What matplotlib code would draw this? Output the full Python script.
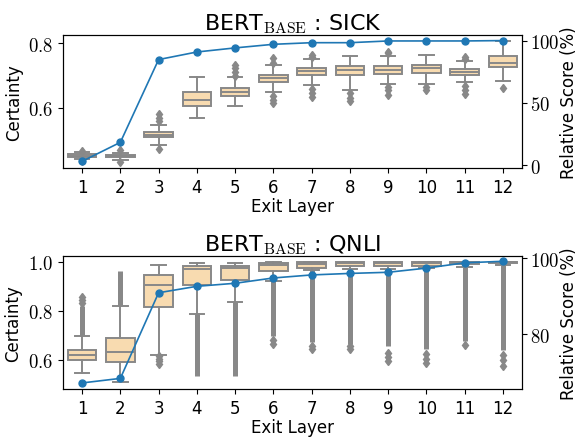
import matplotlib
matplotlib.use("Agg")
import matplotlib.pyplot as plt

plt.rcParams["mathtext.fontset"] = "cm"
plt.rcParams["font.family"] = ["DejaVu Sans"]

layers = list(range(1, 13))

# SICK: certainty box stats per exit layer
sick_med = [0.453, 0.452, 0.518, 0.625, 0.650, 0.692, 0.715, 0.716, 0.718, 0.722, 0.712, 0.738]
sick_q1 = [0.449, 0.448, 0.510, 0.605, 0.638, 0.681, 0.702, 0.701, 0.706, 0.709, 0.702, 0.725]
sick_q3 = [0.457, 0.456, 0.525, 0.648, 0.662, 0.703, 0.723, 0.730, 0.729, 0.733, 0.720, 0.760]
sick_wlo = [0.442, 0.440, 0.487, 0.569, 0.607, 0.649, 0.672, 0.656, 0.674, 0.674, 0.679, 0.682]
sick_whi = [0.463, 0.462, 0.549, 0.696, 0.694, 0.733, 0.751, 0.761, 0.761, 0.763, 0.746, 0.805]
sick_fliers = [
    [0.436, 0.468], [0.432, 0.470], [0.474, 0.560, 0.570, 0.582], [],
    [0.700, 0.712, 0.722, 0.733], [0.614, 0.625, 0.638, 0.740, 0.753],
    [0.633, 0.645, 0.658, 0.756, 0.763], [0.622, 0.632, 0.645],
    [0.641, 0.655, 0.666, 0.768, 0.773], [0.656, 0.664],
    [0.643, 0.655, 0.668, 0.752, 0.756], [0.662],
]
sick_score = [3.0, 18.3, 85.0, 91.1, 94.4, 97.3, 98.6, 98.6, 100.0, 100.0, 100.0, 100.3]

# QNLI: certainty box stats per exit layer
qnli_med = [0.619, 0.634, 0.906, 0.969, 0.974, 0.988, 0.991, 0.995, 0.995, 0.996, 0.997, 0.998]
qnli_q1 = [0.599, 0.593, 0.816, 0.905, 0.926, 0.961, 0.974, 0.983, 0.984, 0.984, 0.989, 0.993]
qnli_q3 = [0.641, 0.688, 0.947, 0.984, 0.984, 0.993, 0.997, 0.999, 0.999, 0.999, 0.999, 1.000]
qnli_wlo = [0.548, 0.509, 0.622, 0.787, 0.836, 0.920, 0.966, 0.970, 0.972, 0.975, 0.980, 0.985]
qnli_whi = [0.699, 0.821, 0.987, 0.993, 0.996, 0.997, 0.999, 1.000, 1.000, 1.000, 1.000, 1.000]
# dense outlier columns (low, high) and scattered outliers
qnli_dense = [(0.699, 0.818), (0.821, 0.963), None, (0.534, 0.787), (0.534, 0.836),
              (0.699, 0.920), (0.672, 0.966), (0.665, 0.970), (0.658, 0.972),
              (0.645, 0.975), (0.679, 0.980), (0.642, 0.985)]
qnli_fliers = [
    [0.830, 0.845, 0.858], [], [0.584, 0.595, 0.605, 0.618], [], [],
    [0.680, 0.665], [0.655, 0.645], [0.655, 0.645], [0.630, 0.612, 0.597],
    [0.625, 0.605, 0.588], [0.662], [0.620, 0.600, 0.577],
]
qnli_score = [67.1, 68.3, 90.9, 92.6, 93.4, 94.8, 95.6, 96.0, 96.3, 97.4, 98.8, 99.2]

BOX_FILL = "#f8dbb0"
GRAY = "#888888"
BLUE = "#1f77b4"


def box_stats(med, q1, q3, wlo, whi, fliers):
    return [
        {"med": m, "q1": a, "q3": b, "whislo": lo, "whishi": hi, "fliers": f}
        for m, a, b, lo, hi, f in zip(med, q1, q3, wlo, whi, fliers)
    ]


def draw_panel(ax, stats, score, title, ylim, yticks, rlim, rticks, dense=None):
    if dense is not None:
        for x, rng in zip(layers, dense):
            if rng is not None:
                ax.vlines(x, rng[0], rng[1], color=GRAY, lw=3.6, zorder=1)
    ax.bxp(
        stats, positions=layers, widths=0.75, patch_artist=True,
        boxprops=dict(facecolor=BOX_FILL, edgecolor=GRAY, lw=1.4),
        medianprops=dict(color=GRAY, lw=1.4),
        whiskerprops=dict(color=GRAY, lw=1.4),
        capprops=dict(color=GRAY, lw=1.4),
        flierprops=dict(marker="d", markerfacecolor=GRAY, markeredgecolor=GRAY, markersize=4.5),
        capwidths=0.375,
    )
    ax.set_xlim(0.5, 12.5)
    ax.set_ylim(*ylim)
    ax.set_yticks(yticks)
    ax.set_yticklabels([rf"${t:.1f}$" for t in yticks])
    ax.set_xticks(layers)
    ax.set_xticklabels([str(v) for v in layers])
    ax.tick_params(axis="x", labelsize=12)
    ax.tick_params(axis="y", labelsize=13.5)
    ax.set_xlabel("Exit Layer", fontsize=12, labelpad=1)
    ax.set_ylabel("Certainty", fontsize=12)
    ax.set_title(title, fontsize=16, pad=4)

    ax2 = ax.twinx()
    ax2.plot(layers, score, color=BLUE, lw=1.2, marker="o", markersize=5)
    ax2.set_ylim(*rlim)
    ax2.set_yticks(rticks)
    ax2.set_yticklabels([rf"${t}$" for t in rticks])
    ax2.tick_params(labelsize=13.5, pad=2)
    ax2.set_ylabel("Relative Score (%)", fontsize=12, labelpad=1)
    return ax2


fig = plt.figure(figsize=(5.81, 4.39), dpi=100)
ax_top = fig.add_axes([0.1084, 0.615, 0.790, 0.303])
ax_bot = fig.add_axes([0.1084, 0.1116, 0.790, 0.303])

draw_panel(
    ax_top,
    box_stats(sick_med, sick_q1, sick_q3, sick_wlo, sick_whi, sick_fliers),
    sick_score, r"BERT$_{\mathrm{BASE}}$ : SICK",
    (0.415, 0.825), [0.6, 0.8], (-2.4, 104.8), [0, 50, 100],
)
draw_panel(
    ax_bot,
    box_stats(qnli_med, qnli_q1, qnli_q3, qnli_wlo, qnli_whi, qnli_fliers),
    qnli_score, r"BERT$_{\mathrm{BASE}}$ : QNLI",
    (0.482, 1.023), [0.6, 0.8, 1.0], (65.5, 100.6), [80, 100],
    dense=qnli_dense,
)

fig.savefig("out.png", dpi=100)
